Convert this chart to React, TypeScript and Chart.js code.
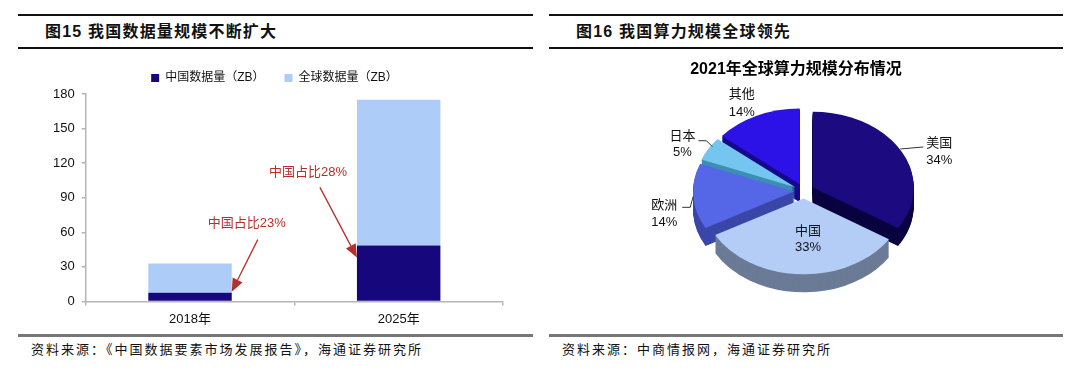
import React, { useEffect, useRef } from 'react';
import { Chart, registerables } from 'chart.js';

Chart.register(...registerables);

// ---------- data: left chart ----------
const categories = ['2018年', '2025年'];
const chinaData = [7.6, 48.6]; // ZB
const globalData = [33, 175]; // ZB
const seriesNames = ['中国数据量（ZB）', '全球数据量（ZB）'];
const yMax = 180;
const yStep = 30;

// ---------- data: right chart ----------
const regions = ['美国', '中国', '欧洲', '日本', '其他'];
const shares = [34, 33, 14, 5, 14];

// ---------- styles ----------
const FONT = '"Liberation Sans", "Noto Sans CJK SC", sans-serif';
const CHINA_COLOR = '#16087c';
const GLOBAL_COLOR = '#adcdf8';
const NOTE_COLOR = '#b5302a';

const TOP_COLORS = ['#1b0a80', '#b3cdf6', '#5567e6', '#74c6f0', '#2c12e6'];
const SIDE_COLORS = ['#090440', '#6b7b96', '#3a47a8', '#3d8fb2', '#170a8a'];

const PIE_K = 0.75;
const PIE_DEPTH = 18;
const PIE_EXPLODE = 10;
const PIE_SHIFT_X = 8;

// label placement relative to the computed anchor point of each slice
const PIE_LABELS: any[] = [
  { leader: [[-1, -2], [22, -4]], tx: 38, ty1: -8, ty2: 9 },
  { inside: 55, tx: 6, ty1: -8, ty2: 8 },
  { leader: [[0, 0], [-3, 11], [-11, 11]], tx: -29, ty1: 9, ty2: 26 },
  { leader: [[4, -2], [-2, -8], [-10, -8]], tx: -26, ty1: -12, ty2: 4 },
  { tx: -15, ty1: -21, ty2: -3 },
];

const NOTE_LAYOUT = [
  { side: 1, tipDy: -1, from: [26, -52], text: [15, -68] },
  { side: -1, tipDy: 12, from: [-37, -70], text: [-49, -85] },
];

const midAngle = (a: any) => (a.startAngle + a.endAngle) / 2;

function slicePath(ctx: CanvasRenderingContext2D, a: any) {
  const h = midAngle(a);
  const ex = Math.cos(h) * PIE_EXPLODE;
  const ey = Math.sin(h) * PIE_EXPLODE;
  ctx.beginPath();
  ctx.moveTo(ex, ey);
  ctx.arc(ex, ey, a.outerRadius, a.startAngle, a.endAngle);
  ctx.closePath();
}

const pie3d = {
  id: 'pie3d',
  beforeDatasetsDraw(chart: any) {
    const ctx = chart.ctx as CanvasRenderingContext2D;
    const arcs = chart.getDatasetMeta(0).data;
    const cx = arcs[0].x + PIE_SHIFT_X;
    const cy = arcs[0].y;
    const order = arcs
      .map((_: any, i: number) => i)
      .sort((i: number, j: number) => Math.sin(midAngle(arcs[i])) - Math.sin(midAngle(arcs[j])));
    for (const i of order) {
      const a = arcs[i];
      for (let d = PIE_DEPTH; d >= 1; d--) {
        ctx.save();
        ctx.translate(cx, cy + d);
        ctx.scale(1, PIE_K);
        slicePath(ctx, a);
        ctx.fillStyle = SIDE_COLORS[i];
        ctx.fill();
        ctx.restore();
      }
      ctx.save();
      ctx.translate(cx, cy);
      ctx.scale(1, PIE_K);
      slicePath(ctx, a);
      ctx.fillStyle = a.options.backgroundColor;
      ctx.fill();
      ctx.restore();
    }
    return false;
  },
  afterDraw(chart: any) {
    const ctx = chart.ctx as CanvasRenderingContext2D;
    const arcs = chart.getDatasetMeta(0).data;
    const cx = arcs[0].x + PIE_SHIFT_X;
    const cy = arcs[0].y;
    ctx.save();
    ctx.font = `13px ${FONT}`;
    ctx.fillStyle = '#111';
    ctx.strokeStyle = '#333';
    ctx.lineWidth = 1;
    ctx.textAlign = 'center';
    ctx.textBaseline = 'middle';
    arcs.forEach((a: any, i: number) => {
      const L = PIE_LABELS[i];
      const h = midAngle(a);
      const r = L.inside ? L.inside + PIE_EXPLODE : a.outerRadius + PIE_EXPLODE;
      const ax = cx + Math.cos(h) * r;
      const ay = cy + PIE_K * Math.sin(h) * r;
      if (L.leader) {
        ctx.beginPath();
        L.leader.forEach((p: number[], k: number) => {
          if (k === 0) ctx.moveTo(ax + p[0], ay + p[1]);
          else ctx.lineTo(ax + p[0], ay + p[1]);
        });
        ctx.stroke();
      }
      ctx.fillText(regions[i], ax + L.tx, ay + L.ty1);
      ctx.fillText(shares[i] + '%', ax + L.tx, ay + L.ty2);
    });
    ctx.restore();
  },
};

const shareNotes = {
  id: 'shareNotes',
  afterDatasetsDraw(chart: any) {
    const ctx = chart.ctx as CanvasRenderingContext2D;
    const bars = chart.getDatasetMeta(0).data;
    ctx.save();
    bars.forEach((bar: any, i: number) => {
      const L = NOTE_LAYOUT[i];
      const tipX = bar.x + (L.side * bar.width) / 2;
      const tipY = bar.y + L.tipDy;
      const sx = tipX + L.from[0];
      const sy = tipY + L.from[1];
      const ang = Math.atan2(tipY - sy, tipX - sx);
      const len = 13;
      const hw = 5.5;
      const bx = tipX - Math.cos(ang) * len;
      const by = tipY - Math.sin(ang) * len;
      ctx.strokeStyle = NOTE_COLOR;
      ctx.fillStyle = NOTE_COLOR;
      ctx.lineWidth = 1.3;
      ctx.beginPath();
      ctx.moveTo(sx, sy);
      ctx.lineTo(bx, by);
      ctx.stroke();
      ctx.beginPath();
      ctx.moveTo(tipX, tipY);
      ctx.lineTo(bx - Math.sin(ang) * hw, by + Math.cos(ang) * hw);
      ctx.lineTo(bx + Math.sin(ang) * hw, by - Math.cos(ang) * hw);
      ctx.closePath();
      ctx.fill();
      const share = Math.round((chinaData[i] / globalData[i]) * 100);
      ctx.font = `13px ${FONT}`;
      ctx.textAlign = 'center';
      ctx.textBaseline = 'middle';
      ctx.fillText(`中国占比${share}%`, tipX + L.text[0], tipY + L.text[1]);
    });
    ctx.restore();
  },
};

function BarChart() {
  const ref = useRef<HTMLCanvasElement>(null);
  useEffect(() => {
    const rest = globalData.map((g, i) => g - chinaData[i]);
    const chart = new Chart(ref.current as HTMLCanvasElement, {
      type: 'bar',
      data: {
        labels: categories,
        datasets: [
          { label: seriesNames[0], data: chinaData, backgroundColor: CHINA_COLOR, borderWidth: 0 },
          { label: seriesNames[1], data: rest, backgroundColor: GLOBAL_COLOR, borderWidth: 0 },
        ],
      },
      options: {
        animation: false,
        responsive: false,
        maintainAspectRatio: false,
        categoryPercentage: 0.8,
        barPercentage: 0.5,
        layout: { padding: { top: 12, left: 28, right: 30, bottom: 3 } },
        plugins: {
          legend: {
            display: true,
            position: 'top',
            labels: {
              boxWidth: 8,
              boxHeight: 8,
              padding: 20,
              color: '#111',
              font: { size: 12, family: FONT },
            },
          },
          tooltip: { enabled: false },
        },
        scales: {
          x: {
            stacked: true,
            grid: { display: true, drawOnChartArea: false, tickLength: 4, color: '#b5b5b5', lineWidth: 1.5 },
            border: { color: '#b5b5b5', width: 1.5 },
            ticks: { color: '#111', padding: 6, font: { size: 13, family: FONT } },
          },
          y: {
            stacked: true,
            min: 0,
            max: yMax,
            grid: { display: true, drawOnChartArea: false, tickLength: 4, color: '#b5b5b5', lineWidth: 1.5 },
            border: { color: '#b5b5b5', width: 1.5 },
            ticks: { stepSize: yStep, color: '#111', padding: 7, font: { size: 13, family: FONT } },
          },
        },
      } as any,
      plugins: [shareNotes],
    });
    return () => chart.destroy();
  }, []);
  return (
    <canvas
      ref={ref}
      width={515}
      height={296}
      style={{ position: 'absolute', left: 18, top: 40, width: 515, height: 296 }}
    />
  );
}

function PieChart() {
  const ref = useRef<HTMLCanvasElement>(null);
  useEffect(() => {
    const chart = new Chart(ref.current as HTMLCanvasElement, {
      type: 'pie',
      data: {
        labels: regions,
        datasets: [
          {
            data: shares,
            backgroundColor: TOP_COLORS,
            borderWidth: 0,
            radius: 101,
            clip: false,
          } as any,
        ],
      },
      options: {
        animation: false,
        responsive: false,
        maintainAspectRatio: false,
        layout: { padding: { top: 0, left: 0, right: 20, bottom: 37 } },
        plugins: {
          legend: { display: false },
          tooltip: { enabled: false },
          title: {
            display: true,
            text: '2021年全球算力规模分布情况',
            color: '#000',
            font: { size: 16, weight: 'bold', family: FONT },
            padding: { top: 5, bottom: 10 },
          },
        },
      } as any,
      plugins: [pie3d],
    });
    return () => chart.destroy();
  }, []);
  return (
    <canvas
      ref={ref}
      width={514}
      height={275}
      style={{ position: 'absolute', left: 549, top: 55, width: 514, height: 275 }}
    />
  );
}

const line = (left: number, width: number, top: number, color: string, h: number) => (
  <div style={{ position: 'absolute', left, top, width, height: h, background: color }} />
);

const textStyle = (left: number, top: number, size: number, bold: boolean, spacing: number): any => ({
  position: 'absolute',
  left,
  top,
  fontSize: size,
  fontWeight: bold ? 'bold' : 'normal',
  letterSpacing: spacing,
  lineHeight: '20px',
  height: 20,
  whiteSpace: 'nowrap',
  color: '#111',
  fontFamily: FONT,
});

export default function App() {
  return (
    <div
      style={{
        position: 'absolute',
        left: 0,
        top: 0,
        width: 1080,
        height: 372,
        background: '#fff',
        overflow: 'hidden',
      }}
    >
      {line(18, 515, 14, '#111', 2)}
      {line(18, 515, 47, '#111', 2)}
      {line(549, 514, 14, '#111', 2)}
      {line(549, 514, 47, '#111', 2)}
      {line(18, 515, 334, '#777', 2.5)}
      {line(549, 514, 334, '#777', 2.5)}
      <div style={textStyle(45, 22, 16, true, 1.2)}>图15 我国数据量规模不断扩大</div>
      <div style={textStyle(576, 22, 16, true, 1.2)}>图16 我国算力规模全球领先</div>
      <div style={textStyle(31, 340, 13, false, 2)}>资料来源：《中国数据要素市场发展报告》，海通证券研究所</div>
      <div style={textStyle(562, 340, 13, false, 2)}>资料来源：中商情报网，海通证券研究所</div>
      <BarChart />
      <PieChart />
    </div>
  );
}
